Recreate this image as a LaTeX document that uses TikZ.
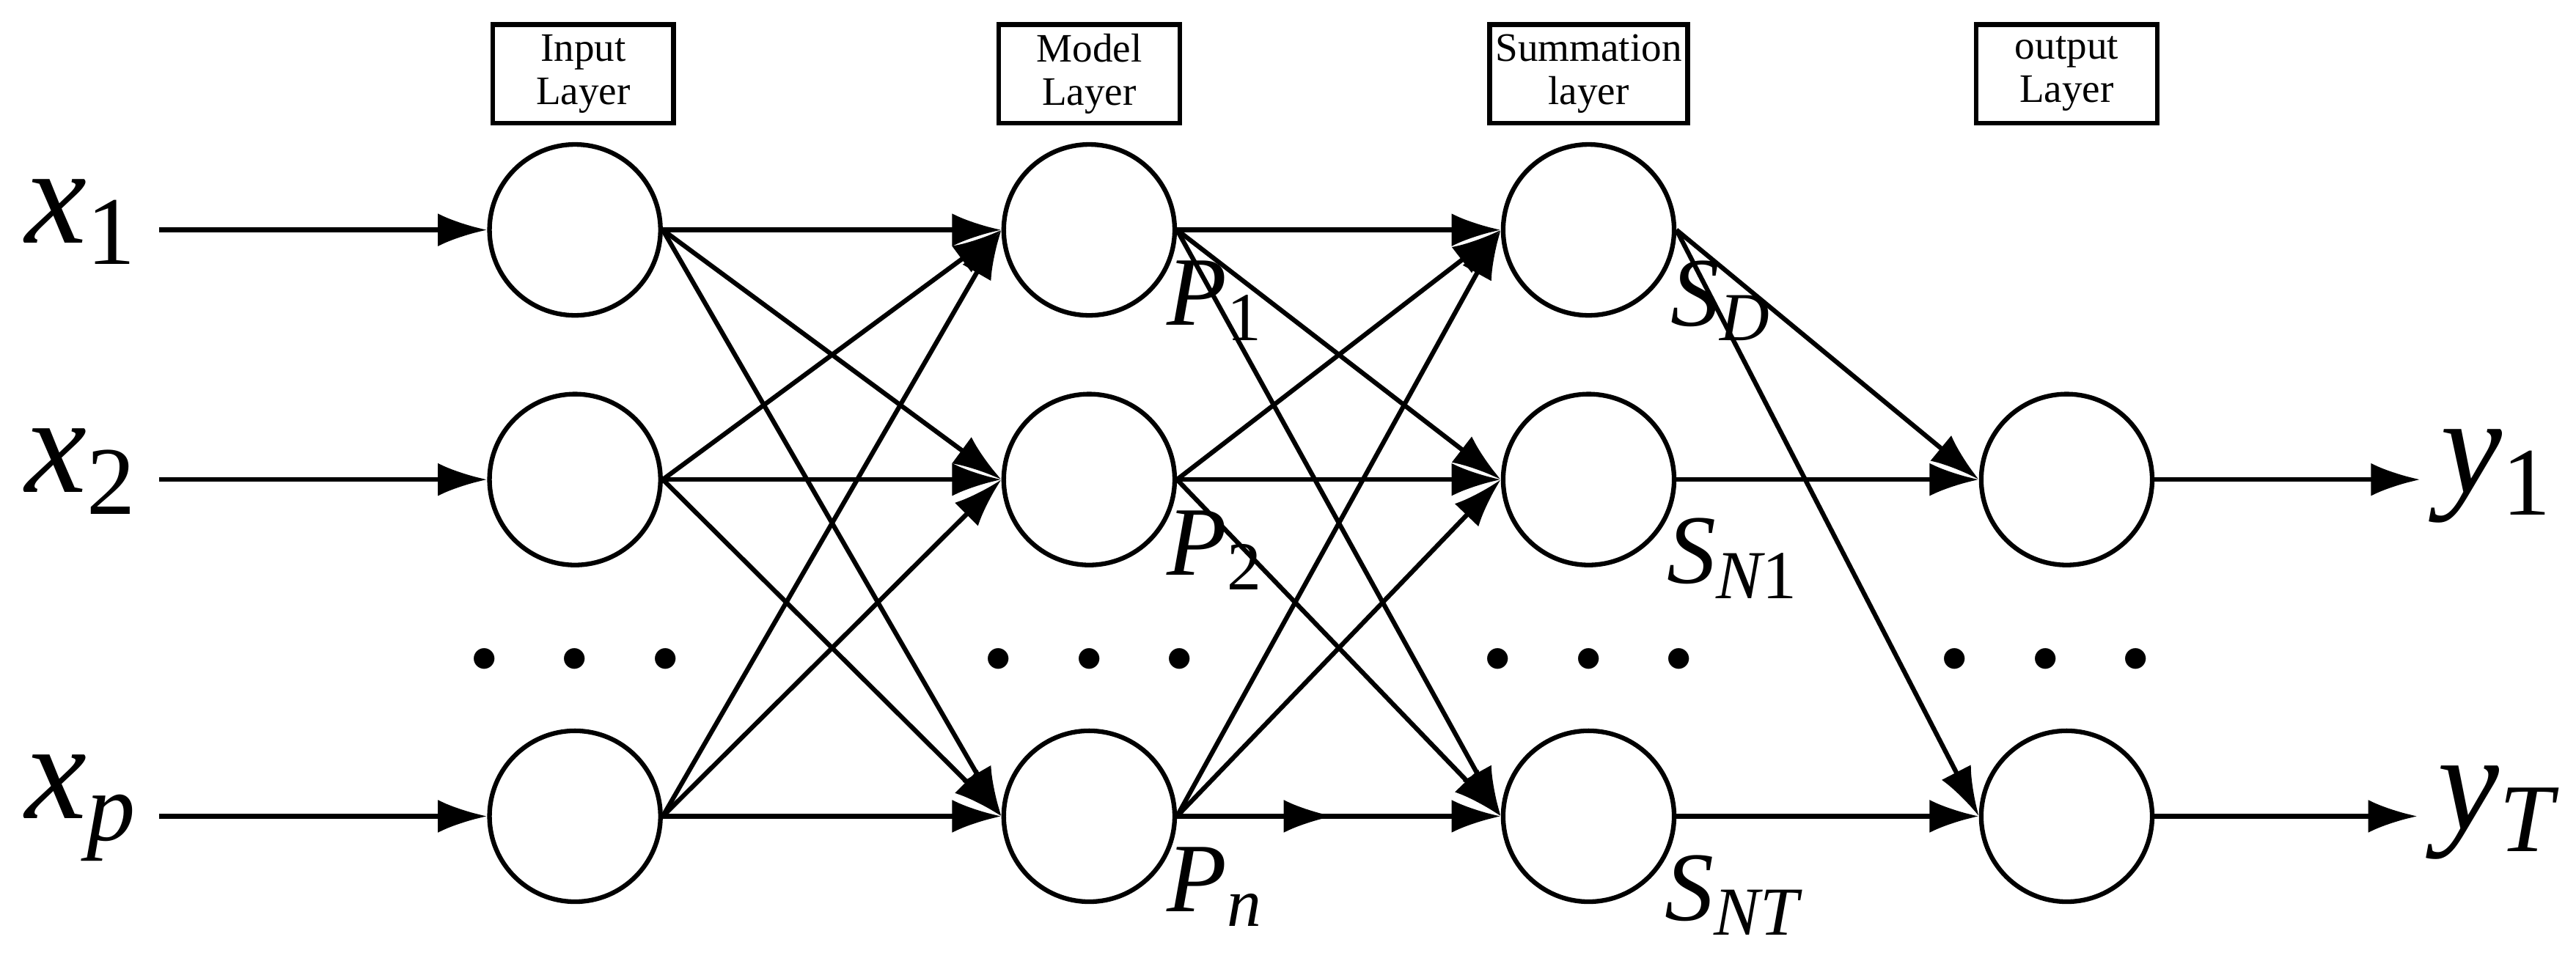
\documentclass[tikz,border=0pt]{standalone}
\usepackage{fontspec}
\setmainfont{Liberation Serif}
\usetikzlibrary{positioning,arrows.meta}
\tikzstyle{neuron} = [circle, draw, thick, minimum size=1.04cm, inner sep=0pt]
\tikzstyle{layer} = [rectangle, draw, thick, minimum width=1.1cm, minimum height=0.6cm, align=center, font=\fontsize{7}{7.5}\selectfont, inner sep=1pt]
\tikzstyle{conn} = [thick, -{Latex[length=3mm,width=2mm]}]
\tikzstyle{lab} = [font=\fontsize{24}{24}\selectfont\itshape]
\tikzstyle{sublab} = [font=\fontsize{17}{17}\selectfont\itshape]
\tikzstyle{dots} = [font=\small, inner sep=1pt]

\begin{document}
\begin{tikzpicture}[x=0.01cm, y=-0.01cm]
        \useasboundingbox (0,0) rectangle (1568,580);

          % columns of neurons
          \foreach \col/\cx in {I/350, M/663, S/967} {
            \node [neuron] (\col1) at (\cx,140) {};
            \node [neuron] (\col2) at (\cx,292) {};
            \node [neuron] (\col3) at (\cx,497) {};
            \node [dots] (\col d) at (\cx,402) {$\bullet\quad\bullet\quad\bullet$};
          }
          \node [neuron] (O2) at (1258,292) {};
          \node [neuron] (O3) at (1258,497) {};
          \node [dots] (O d) at (1245,402) {$\bullet\quad\bullet\quad\bullet$};

          % layer headers
          \node [layer] (hI) at (355,45) {Input\\Layer};
          \node [layer] (hM) at (663,45) {Model\\Layer};
          \node [layer] (hS) at (967,45) {Summation\\layer};
          \node [layer] (hO) at (1258,45) {output\\Layer};

          % inputs and outputs
          \node [lab] (x1) at (50,135) {x\textsubscript{\upshape 1}};
          \node [lab] (x2) at (50,287) {x\textsubscript{\upshape 2}};
          \node [lab] (xp) at (50,492) {x\textsubscript{p}};
          \node [lab] (y1) at (1520,290) {y\textsubscript{\upshape 1}};
          \node [lab] (yT) at (1520,495) {y\textsubscript{T}};
          \draw [conn] (x1.east |- I1) -- (I1.west);
          \draw [conn] (x2.east |- I2) -- (I2.west);
          \draw [conn] (xp.east |- I3) -- (I3.west);
          \draw [conn] (O2.east) -- (y1.west |- O2);
          \draw [conn] (O3.east) -- (yT.west |- O3);

          % fully connected layers
          \foreach \a in {1,2,3} {
            \foreach \b in {1,2,3} {
              \draw [conn] (I\a.east) -- (M\b.west);
              \draw [conn] (M\a.east) -- (S\b.west);
            }
          }
          \draw [conn] (M3.east) -- ++(95,0);
          \draw [conn] (S1.east) -- (O2.west);
          \draw [conn] (S1.east) -- (O3.west);
          \draw [conn] (S2.east) -- (O2.west);
          \draw [conn] (S3.east) -- (O3.west);

          % labels
          \node [sublab] (p1) at (740,183) {P\textsubscript{\upshape 1}};
          \node [sublab] (p2) at (740,335) {P\textsubscript{\upshape 2}};
          \node [sublab] (pn) at (740,540) {P\textsubscript{n}};
          \node [sublab] (sd) at (1048,183) {S\textsubscript{D}};
          \node [sublab] (sn1) at (1055,340) {S\textsubscript{N\upshape 1}};
          \node [sublab] (snt) at (1055,545) {S\textsubscript{NT}};
        \end{tikzpicture}
\end{document}
